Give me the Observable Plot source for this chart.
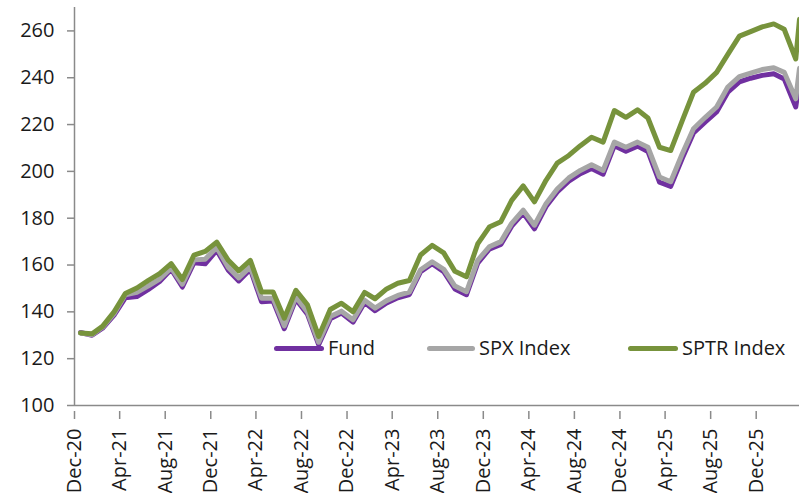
<!DOCTYPE html>
<html><head><meta charset="utf-8">
<script src="https://cdn.jsdelivr.net/npm/d3@7"></script>
<script src="https://cdn.jsdelivr.net/npm/@observablehq/plot@0.6"></script>
<style>
html,body{margin:0;padding:0;background:#fff;}
#wrap{position:relative;width:799px;height:493px;font-family:"Open Sans",sans-serif;overflow:hidden;}
.leg{position:absolute;top:334px;height:28px;line-height:28px;display:flex;align-items:center;font-size:20px;color:#1a1a1a;white-space:nowrap;}
.sw{height:5px;margin-right:4px;border-radius:2.5px;}
</style></head><body><div id="wrap"></div>
<script>
const dates = [
"2020-12-31",
"2021-01-31","2021-02-28","2021-03-31","2021-04-30","2021-05-31","2021-06-30","2021-07-31","2021-08-31","2021-09-30","2021-10-31","2021-11-30","2021-12-31",
"2022-01-31","2022-02-28","2022-03-31","2022-04-30","2022-05-31","2022-06-30","2022-07-31","2022-08-31","2022-09-30","2022-10-31","2022-11-30","2022-12-31",
"2023-01-31","2023-02-28","2023-03-31","2023-04-30","2023-05-31","2023-06-30","2023-07-31","2023-08-31","2023-09-30","2023-10-31","2023-11-30","2023-12-31",
"2024-01-31","2024-02-29","2024-03-31","2024-04-30","2024-05-31","2024-06-30","2024-07-31","2024-08-31","2024-09-30","2024-10-31","2024-11-30","2024-12-31",
"2025-01-31","2025-02-28","2025-03-31","2025-04-30","2025-05-31","2025-06-30","2025-07-31","2025-08-31","2025-09-30","2025-10-31","2025-11-30","2025-12-31",
"2026-01-31","2026-02-28","2026-03-31","2026-04-10"];

const fund = [131.2,
130.0,133.0,138.6,146.0,146.5,149.5,153.0,158.2,150.6,161.0,160.5,166.3,
157.8,153.2,158.2,144.3,144.6,132.8,145.4,139.0,126.0,137.0,139.5,135.6,
144.0,140.5,143.8,146.0,147.4,157.2,160.6,157.2,149.8,147.3,160.8,166.8,
168.8,176.6,182.2,175.5,185.0,191.2,195.8,199.0,201.2,198.8,211.0,208.6,
210.8,208.5,195.4,193.6,205.6,216.4,221.0,225.4,233.8,238.2,239.8,241.0,
241.7,239.5,227.5,238.5];

const spx = [131.0,
130.2,133.4,139.2,147.3,148.4,151.0,154.0,158.8,151.8,162.2,162.5,167.5,
159.0,154.5,159.2,145.8,145.8,134.0,146.4,140.0,127.0,138.0,140.3,136.6,
145.0,141.6,144.8,147.0,148.4,158.0,161.4,158.2,151.0,148.6,162.0,167.8,
170.0,177.8,183.4,177.0,186.2,192.5,197.2,200.4,202.8,200.4,212.5,210.3,
212.5,210.3,197.6,195.6,207.5,218.2,223.0,227.5,236.0,240.5,242.0,243.5,
244.3,242.3,231.0,244.0];

const sptr = [131.0,
130.6,133.8,140.0,147.8,150.2,153.3,156.3,160.6,153.8,164.2,165.8,169.8,
162.0,157.5,162.0,148.5,148.5,137.3,149.2,143.0,129.5,141.0,143.7,140.0,
148.3,145.6,149.8,152.2,153.4,164.3,168.4,165.2,157.3,155.0,169.0,176.2,
178.5,187.6,193.8,187.0,196.2,203.5,206.8,211.0,214.6,212.5,226.0,223.1,
226.3,222.8,210.3,208.9,221.7,233.8,237.6,242.3,250.0,257.8,259.7,261.7,
263.0,260.7,248.0,265.0];

const seriesNames = ["Fund", "SPX Index", "SPTR Index"];
const seriesColors = ["#7030A0", "#A6A6A6", "#77933C"];
const yTicks = [100, 120, 140, 160, 180, 200, 220, 240, 260];
const yDomain = [100, 270];
const xTickDates = ["2020-12-15","2021-04-15","2021-08-15","2021-12-15","2022-04-15","2022-08-15","2022-12-15",
"2023-04-15","2023-08-15","2023-12-15","2024-04-15","2024-08-15","2024-12-15","2025-04-15","2025-08-15","2025-12-15"];
const xDomainDates = ["2020-12-15", "2026-04-10"];

const parse = d3.utcParse("%Y-%m-%d");
const seriesValues = [fund, spx, sptr];
const rows = [];
seriesValues.forEach((vals, s) => {
  vals.forEach((v, i) => rows.push({series: seriesNames[s], date: parse(dates[i]), value: v}));
});
const xDomain = xDomainDates.map(parse);
const xTicks = xTickDates.map(parse);
const axisColor = "#8a8a8a";

const chart = Plot.plot({
  width: 799,
  height: 493,
  marginLeft: 74,
  marginRight: 0,
  marginTop: 7,
  marginBottom: 88,
  style: {fontFamily: "'Open Sans', sans-serif", fontSize: "20px", color: "#1a1a1a", background: "white", overflow: "visible"},
  x: {type: "utc", domain: xDomain},
  y: {domain: yDomain},
  color: {domain: seriesNames, range: seriesColors},
  marks: [
    Plot.axisY({ticks: yTicks, tickSize: 7, tickPadding: 13, stroke: axisColor, strokeWidth: 1.5, fill: "#1a1a1a", label: null}),
    Plot.axisX({ticks: xTicks, tickFormat: d3.utcFormat("%b-%y"), tickRotate: -90, tickSize: 8, tickPadding: 9, dy: 6, stroke: axisColor, strokeWidth: 1.5, fill: "#1a1a1a", label: null}),
    Plot.ruleX([xDomain[0]], {y1: yDomain[0], y2: yDomain[1], stroke: axisColor, strokeWidth: 1.5}),
    Plot.ruleY([yDomain[0]], {stroke: axisColor, strokeWidth: 1.5}),
    Plot.line(rows, {x: "date", y: "value", z: "series", stroke: "series", strokeWidth: 5, strokeLinejoin: "round", strokeLinecap: "round"})
  ]
});
const wrap = document.getElementById("wrap");
wrap.appendChild(chart);

const legendLeft = [274, 427, 628];
const legendSwatch = [50, 48, 50];
seriesNames.forEach((name, i) => {
  const item = document.createElement("div");
  item.className = "leg";
  item.style.left = legendLeft[i] + "px";
  const sw = document.createElement("div");
  sw.className = "sw";
  sw.style.width = legendSwatch[i] + "px";
  sw.style.background = seriesColors[i];
  const t = document.createElement("span");
  t.textContent = name;
  item.appendChild(sw);
  item.appendChild(t);
  wrap.appendChild(item);
});
</script>
</body></html>
